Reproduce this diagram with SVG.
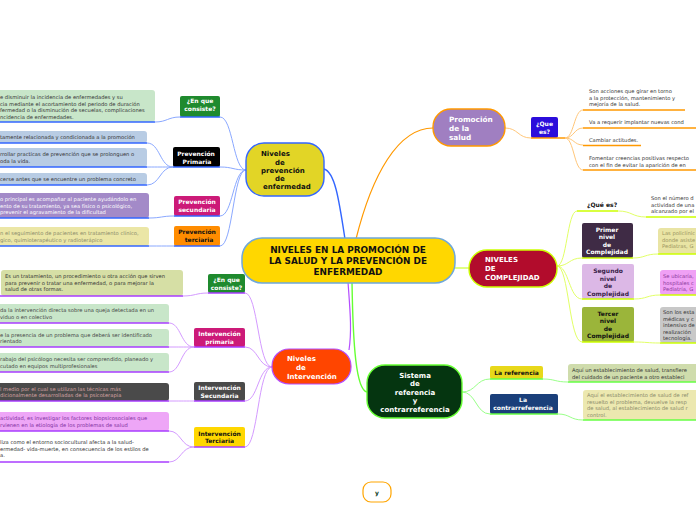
<svg xmlns="http://www.w3.org/2000/svg" width="696" height="520" viewBox="0 0 696 520">
<style>
text{font-family:"DejaVu Sans","Liberation Sans",sans-serif}
.t{font-size:5.2px;fill:#333}
.nb{font-size:6px;font-weight:bold;text-anchor:middle}
.mb{font-size:7px;font-weight:bold}
.c{fill:none;stroke-width:1}
.u{fill:none;stroke-width:1.6}
.bl{stroke:#8aa8ff}.blu{stroke:#3366ff}
.pu{stroke:#d49aff}.puu{stroke:#a83cff}
.or{stroke:#ffc77a}.oru{stroke:#ff9900}
.yg{stroke:#e2ff66}.ygu{stroke:#ccff00}
.gr{stroke:#99ff88}.gru{stroke:#66ff44}
</style>
<rect width="696" height="520" fill="#fff"/>

<g id="connectors">
<path d="M324,169 C335,172 339,200 345,239" fill="none" stroke="#3366ff" stroke-width="1.4"/>
<path d="M356,239 C372,175 398,128 433,128" fill="none" stroke="#ff9900" stroke-width="1.2"/>
<path d="M455,268 L469,268" fill="none" stroke="#ccff33" stroke-width="1.2"/>
<path d="M352,282 C353,345 356,390 367,392" fill="none" stroke="#66ff33" stroke-width="1.4"/>
<path d="M348,282 C350,310 352,330 349,350" fill="none" stroke="#b44dff" stroke-width="1.2"/>

<path class="c bl" d="M246,170 C233,170 233,117 220,117"/>
<path class="c bl" d="M246,170 C233,170 233,167 220,167"/>
<path class="c bl" d="M246,170 C233,170 233,216 220,216"/>
<path class="c bl" d="M246,170 C233,170 233,246 220,246"/>
<path class="c bl" d="M180,117 C168,117 167,122 155,122"/>
<path class="c bl" d="M173,167 C160,167 160,143 147,143"/>
<path class="c bl" d="M173,167 C160,167 160,167 147,167"/>
<path class="c bl" d="M173,167 C160,167 160,185 147,185"/>
<path class="c bl" d="M174,216 C162,216 161,218 149,218"/>
<path class="c bl" d="M174,246 C162,246 161,246 149,246"/>

<path class="c pu" d="M272,367 C258,367 258,293 245,293"/>
<path class="c pu" d="M272,367 C258,367 258,347 245,347"/>
<path class="c pu" d="M272,367 C258,367 258,401 245,401"/>
<path class="c pu" d="M272,367 C258,367 258,447 245,447"/>
<path class="c pu" d="M208,293 C196,293 195,296 183,296"/>
<path class="c pu" d="M194,347 C181,347 181,323 169,323"/>
<path class="c pu" d="M194,347 C181,347 181,347 169,347"/>
<path class="c pu" d="M194,347 C181,347 181,372 169,372"/>
<path class="c pu" d="M194,401 C181,401 181,401 169,401"/>
<path class="c pu" d="M194,447 C181,447 181,431 169,431"/>
<path class="c pu" d="M194,447 C181,447 181,462 169,462"/>

<path class="c or" d="M505,128 C518,128 518,138 531,138"/>
<path class="c or" d="M565,138 C574,138 574,110 583,110"/>
<path class="c or" d="M565,138 C574,138 574,128 583,128"/>
<path class="c or" d="M565,138 C574,138 574,145 583,145"/>
<path class="c or" d="M565,138 C574,138 574,170 583,170"/>

<path class="c yg" d="M557,266 C567,266 567,211 577,211"/>
<path class="c yg" d="M557,266 C569,266 569,258 582,258"/>
<path class="c yg" d="M557,266 C569,266 569,299 582,299"/>
<path class="c yg" d="M557,266 C569,266 569,342 582,342"/>
<path class="c yg" d="M618,211 C632,211 632,217 646,217"/>
<path class="c yg" d="M633,258 C645,258 645,254 658,254"/>
<path class="c yg" d="M634,299 C647,299 647,295 660,295"/>
<path class="c yg" d="M634,342 C647,342 647,343 660,343"/>

<path class="c gr" d="M462,392 C476,392 476,379 490,379"/>
<path class="c gr" d="M462,392 C476,392 476,414 490,414"/>
<path class="c gr" d="M543,379 C555,379 555,382 568,382"/>
<path class="c gr" d="M558,414 C570,414 570,420 583,420"/>
</g>

<g id="central">
<rect x="242" y="238" width="213" height="45" rx="20" fill="#ffd700" stroke="#6fa8dc" stroke-width="1.5"/>
<text x="348" y="253" font-size="8.9" font-weight="bold" text-anchor="middle" fill="#111">NIVELES EN LA PROMOCIÓN DE</text>
<text x="348" y="264" font-size="8.9" font-weight="bold" text-anchor="middle" fill="#111">LA SALUD Y LA PREVENCIÓN DE</text>
<text x="348" y="275" font-size="8.9" font-weight="bold" text-anchor="middle" fill="#111">ENFERMEDAD</text>
</g>

<g id="prevencion">
<rect x="246" y="143" width="78" height="53" rx="18" fill="#e2d526" stroke="#3366ff" stroke-width="1.4"/>
<text class="mb" x="261" y="156" fill="#111">Niveles</text>
<text class="mb" x="275" y="164.5" fill="#111">de</text>
<text class="mb" x="261" y="172.5" fill="#111">prevención</text>
<text class="mb" x="275" y="181" fill="#111">de</text>
<text class="mb" x="263" y="189" fill="#111">enfermedad</text>
</g>

<g id="prev-consiste">
<rect x="180" y="96" width="40" height="21" rx="2" fill="#1f8a2e"/>
<path class="u blu" d="M180,117 H220"/>
<text class="nb" x="200" y="103" fill="#fff">¿En que</text>
<text class="nb" x="200" y="111" fill="#fff">consiste?</text>
</g>
<g id="prev-consiste-txt">
<rect x="-5" y="90" width="160" height="32" rx="3" fill="#c8e6c9"/>
<path class="u blu" d="M0,122 H155"/>
<text class="t" x="0" y="99">e disminuir la incidencia de enfermedades y su</text>
<text class="t" x="0" y="105.5">cia mediante el acortamiento del periodo de duración</text>
<text class="t" x="0" y="112">fermedad o la disminución de secuelas, complicaciones</text>
<text class="t" x="0" y="118.5">ncidencia de enfermedades.</text>
</g>

<g id="prev-primaria">
<rect x="173" y="147" width="47" height="20" rx="2" fill="#000"/>
<path class="u blu" d="M173,167 H220"/>
<text class="nb" x="196" y="156" fill="#fff">Prevención</text>
<text class="nb" x="197" y="163.5" fill="#fff">Primaria</text>
</g>
<g id="pp1">
<rect x="-5" y="131" width="152" height="12" rx="3" fill="#b8cce4"/>
<path class="u blu" d="M0,143 H147"/>
<text class="t" x="0" y="138.5">tamente relacionada y condicionada a la promoción</text>
</g>
<g id="pp2">
<rect x="-5" y="148" width="152" height="19" rx="3" fill="#b8cce4"/>
<path class="u blu" d="M0,167 H147"/>
<text class="t" x="0" y="156">rrollar practicas de prevención que se prolonguen o</text>
<text class="t" x="0" y="163">oda la vida.</text>
</g>
<g id="pp3">
<rect x="-5" y="173" width="152" height="12" rx="3" fill="#b8cce4"/>
<path class="u blu" d="M0,185 H147"/>
<text class="t" x="0" y="181">cerse antes que se encuentre un problema concreto</text>
</g>

<g id="prev-secundaria">
<rect x="174" y="196" width="46" height="20" rx="2" fill="#cc1a78"/>
<path class="u blu" d="M174,216 H220"/>
<text class="nb" x="197" y="203.5" fill="#fff">Prevención</text>
<text class="nb" x="197" y="211.5" fill="#fff">secundaria</text>
</g>
<g id="ps1">
<rect x="-5" y="193" width="154" height="25" rx="3" fill="#a38ac8"/>
<path class="u blu" d="M0,218 H149"/>
<text class="t" x="0" y="201" style="fill:#fff">o principal es acompañar al paciente ayudándolo en</text>
<text class="t" x="0" y="207.5" style="fill:#fff">ento de su tratamiento, ya sea físico o psicológico,</text>
<text class="t" x="0" y="214" style="fill:#fff">prevenir el agravamiento de la dificultad</text>
</g>

<g id="prev-terciaria">
<rect x="174" y="226" width="46" height="20" rx="2" fill="#ff8c00"/>
<path class="u blu" d="M174,246 H220"/>
<text class="nb" x="197" y="233.5" fill="#111">Prevención</text>
<text class="nb" x="199" y="242" fill="#111">terciaria</text>
</g>
<g id="pt1">
<rect x="-5" y="227" width="154" height="19" rx="3" fill="#ebe6a6"/>
<path class="u blu" d="M0,246 H149"/>
<text class="t" x="0" y="235" style="fill:#8a8a6a">n el seguimiento de pacientes en tratamiento clínico,</text>
<text class="t" x="0" y="241.5" style="fill:#8a8a6a">gico, quimioterapéutico y radioterápico</text>
</g>

<g id="promocion">
<rect x="433" y="109" width="72" height="37" rx="18" fill="#a07fc1" stroke="#ff9900" stroke-width="1.4"/>
<text x="449" y="122" font-size="7.3" font-weight="bold" fill="#fff">Promoción</text>
<text x="449" y="131" font-size="7.3" font-weight="bold" fill="#fff">de la</text>
<text x="449" y="140" font-size="7.3" font-weight="bold" fill="#fff">salud</text>
</g>
<g id="que-es">
<rect x="531" y="117" width="27" height="21" rx="2" fill="#2b0ddb"/>
<path class="u oru" d="M531,138 H565"/>
<text class="nb" x="544.5" y="125.5" fill="#fff">¿Que</text>
<text class="nb" x="544.5" y="133.5" fill="#fff">es?</text>
</g>
<g id="pr1">
<path class="u oru" d="M583,110 H685"/>
<text class="t" x="589" y="93">Son acciones que girar en torno</text>
<text class="t" x="589" y="99.5">a la protección, mantenimiento y</text>
<text class="t" x="589" y="106">mejoría de la salud.</text>
</g>
<g id="pr2">
<path class="u oru" d="M583,128 H696"/>
<text class="t" x="589" y="124">Va a requerir implantar nuevas cond</text>
</g>
<g id="pr3">
<path class="u oru" d="M583,145.5 H641"/>
<text class="t" x="589" y="142">Cambiar actitudes.</text>
</g>
<g id="pr4">
<path class="u oru" d="M583,170 H696"/>
<text class="t" x="589" y="160">Fomentar creencias positivas respecto</text>
<text class="t" x="589" y="166.5">con el fin de evitar la aparición de en</text>
</g>

<g id="complejidad">
<rect x="469" y="250" width="88" height="37" rx="18" fill="#b20c2c" stroke="#ccff00" stroke-width="1.4"/>
<text class="mb" x="485" y="262" fill="#fff">NIVELES</text>
<text class="mb" x="485" y="271" fill="#fff">DE</text>
<text class="mb" x="485" y="280" fill="#fff">COMPLEJIDAD</text>
</g>
<g id="que-es-2">
<path class="u ygu" d="M577,211 H618"/>
<text x="587" y="206.5" font-size="6" font-weight="bold" fill="#111">¿Qué es?</text>
</g>
<g id="c1">
<path class="u ygu" d="M646,217 H696"/>
<text class="t" x="651" y="200">Son el número d</text>
<text class="t" x="651" y="206.5">actividad de una</text>
<text class="t" x="651" y="213">alcanzado por el</text>
</g>
<g id="primer">
<rect x="582" y="223" width="51" height="35" rx="2" fill="#3f2b45"/>
<path class="u ygu" d="M582,258 H633"/>
<text class="nb" x="607" y="231.5" fill="#fff">Primer</text>
<text class="nb" x="607" y="239" fill="#fff">nivel</text>
<text class="nb" x="607" y="246.5" fill="#fff">de</text>
<text class="nb" x="607" y="254" fill="#fff">Complejidad</text>
</g>
<g id="c2">
<rect x="658" y="228" width="45" height="26" rx="3" fill="#e9e4a4"/>
<path class="u ygu" d="M658,254 H696"/>
<text class="t" x="662" y="235" style="fill:#9a9460">Las policlínic</text>
<text class="t" x="662" y="241.5" style="fill:#9a9460">donde asiste</text>
<text class="t" x="662" y="248" style="fill:#9a9460">Pediatras, G</text>
</g>
<g id="segundo">
<rect x="582" y="264" width="52" height="35" rx="2" fill="#dcb8e6"/>
<path class="u ygu" d="M582,299 H634"/>
<text class="nb" x="608" y="273" fill="#3a1f4a">Segundo</text>
<text class="nb" x="608" y="280.5" fill="#3a1f4a">nivel</text>
<text class="nb" x="608" y="288" fill="#3a1f4a">de</text>
<text class="nb" x="608" y="295.5" fill="#3a1f4a">Complejidad</text>
</g>
<g id="c3">
<rect x="660" y="270" width="45" height="25" rx="3" fill="#f0a0f5"/>
<path class="u ygu" d="M660,295 H696"/>
<text class="t" x="663" y="278" style="fill:#8a3a9a">Se ubicaría,</text>
<text class="t" x="663" y="284.5" style="fill:#8a3a9a">hospitales c</text>
<text class="t" x="663" y="291" style="fill:#8a3a9a">Pediatría, G</text>
</g>
<g id="tercer">
<rect x="582" y="307" width="52" height="35" rx="2" fill="#9bb53a"/>
<path class="u ygu" d="M582,342 H634"/>
<text class="nb" x="608" y="315.5" fill="#111">Tercer</text>
<text class="nb" x="608" y="323" fill="#111">nivel</text>
<text class="nb" x="608" y="330.5" fill="#111">de</text>
<text class="nb" x="608" y="338" fill="#111">Complejidad</text>
</g>
<g id="c4">
<rect x="660" y="307" width="45" height="36" rx="3" fill="#c8c8c8"/>
<path class="u ygu" d="M660,343 H696"/>
<text class="t" x="663" y="314">Son los esta</text>
<text class="t" x="663" y="320.5">médicas y c</text>
<text class="t" x="663" y="327">intensivo de</text>
<text class="t" x="663" y="333.5">realización</text>
<text class="t" x="663" y="340">tecnología.</text>
</g>

<g id="sistema">
<rect x="367" y="365" width="95" height="53" rx="18" fill="#053510" stroke="#66ff33" stroke-width="1.4"/>
<text class="mb" x="415" y="378" text-anchor="middle" fill="#fff">Sistema</text>
<text class="mb" x="415" y="386" text-anchor="middle" fill="#fff">de</text>
<text class="mb" x="415" y="395" text-anchor="middle" fill="#fff">referencia</text>
<text class="mb" x="415" y="403" text-anchor="middle" fill="#fff">y</text>
<text class="mb" x="415" y="411.5" text-anchor="middle" fill="#fff">contrarreferencia</text>
</g>
<g id="referencia">
<rect x="490" y="366" width="53" height="13" rx="2" fill="#e8d81a"/>
<path class="u gru" d="M490,379 H543"/>
<text class="nb" x="516.5" y="374.5" fill="#111">La referencia</text>
</g>
<g id="ref-txt">
<rect x="568" y="364" width="135" height="18" rx="3" fill="#cfdcac"/>
<path class="u gru" d="M568,382 H696"/>
<text class="t" x="572" y="372">Aquí un establecimiento de salud, transfiere</text>
<text class="t" x="572" y="378.5">del cuidado de un paciente a otro estableci</text>
</g>
<g id="contrarreferencia">
<rect x="490" y="394" width="68" height="20" rx="2" fill="#1a3f7a"/>
<path class="u gru" d="M490,414 H558"/>
<text class="nb" x="523" y="401.5" fill="#fff">La</text>
<text class="nb" x="523" y="410" fill="#fff">contrarreferencia</text>
</g>
<g id="contra-txt">
<rect x="583" y="390" width="120" height="30" rx="3" fill="#ece8b0"/>
<path class="u gru" d="M583,420 H696"/>
<text class="t" x="587" y="397" style="fill:#8a8a6a">Aquí el establecimiento de salud de ref</text>
<text class="t" x="587" y="403.5" style="fill:#8a8a6a">resuelto el problema, devuelve la resp</text>
<text class="t" x="587" y="410" style="fill:#8a8a6a">de salud, al establecimiento de salud r</text>
<text class="t" x="587" y="416.5" style="fill:#8a8a6a">control.</text>
</g>

<g id="intervencion">
<rect x="272" y="349" width="79" height="35" rx="17" fill="#ff4500" stroke="#b44dff" stroke-width="1.2"/>
<text class="mb" x="287" y="361" fill="#fff">Niveles</text>
<text class="mb" x="296" y="369.5" fill="#fff">de</text>
<text class="mb" x="287" y="378.5" fill="#fff">Intervención</text>
</g>
<g id="int-consiste">
<rect x="208" y="274" width="37" height="19" rx="2" fill="#1f8a2e"/>
<path class="u puu" d="M208,293 H245"/>
<text class="nb" x="226.5" y="282" fill="#fff">¿En que</text>
<text class="nb" x="226.5" y="289.5" fill="#fff">consiste?</text>
</g>
<g id="ic1">
<rect x="1" y="270" width="182" height="26" rx="3" fill="#d6dfa5"/>
<path class="u puu" d="M0,296 H183"/>
<text class="t" x="5" y="278">Es un tratamiento, un procedimiento u otra acción que sirven</text>
<text class="t" x="5" y="284.5">para prevenir o tratar una enfermedad, o para mejorar la</text>
<text class="t" x="5" y="291">salud de otras formas.</text>
</g>
<g id="int-primaria">
<rect x="194" y="328" width="51" height="19" rx="2" fill="#cc1a78"/>
<path class="u puu" d="M194,347 H245"/>
<text class="nb" x="219.5" y="336" fill="#fff">Intervención</text>
<text class="nb" x="219.5" y="343.5" fill="#fff">primaria</text>
</g>
<g id="ip1">
<rect x="-5" y="304" width="174" height="19" rx="3" fill="#c8e6c9"/>
<path class="u puu" d="M0,323 H169"/>
<text class="t" x="0" y="312" style="fill:#444">da la intervención directa sobre una queja detectada en un</text>
<text class="t" x="0" y="318.5" style="fill:#444">viduo o en colectivo</text>
</g>
<g id="ip2">
<rect x="-5" y="329" width="174" height="18" rx="3" fill="#c8e6c9"/>
<path class="u puu" d="M0,347 H169"/>
<text class="t" x="0" y="336.5" style="fill:#444">e la presencia de un problema que deberá ser identificado</text>
<text class="t" x="0" y="343" style="fill:#444">rientado</text>
</g>
<g id="ip3">
<rect x="-5" y="353" width="174" height="19" rx="3" fill="#c8e6c9"/>
<path class="u puu" d="M0,372 H169"/>
<text class="t" x="0" y="361" style="fill:#444">rabajo del psicólogo necesita ser comprendido, planeado y</text>
<text class="t" x="0" y="367.5" style="fill:#444">cutado en equipos multiprofesionales</text>
</g>
<g id="int-secundaria">
<rect x="194" y="382" width="51" height="19" rx="2" fill="#4a4a4a"/>
<path class="u puu" d="M194,401 H245"/>
<text class="nb" x="219.5" y="390" fill="#fff">Intervención</text>
<text class="nb" x="219.5" y="397.5" fill="#fff">Secundaria</text>
</g>
<g id="is1">
<rect x="-5" y="383" width="174" height="18" rx="3" fill="#4a4a4a"/>
<path class="u puu" d="M0,401 H169"/>
<text class="t" x="0" y="390.5" style="fill:#d8a4a4">l medio por el cual se utilizan las técnicas más</text>
<text class="t" x="0" y="397" style="fill:#d8a4a4">dicionalmente desarrolladas de la psicoterapia</text>
</g>
<g id="it1">
<rect x="-5" y="412" width="174" height="19" rx="3" fill="#eea6f7"/>
<path class="u puu" d="M0,431 H169"/>
<text class="t" x="0" y="420" style="fill:#8030a0">actividad, es investigar los factores biopsicosociales que</text>
<text class="t" x="0" y="426.5" style="fill:#8030a0">rvienen en la etiología de los problemas de salud</text>
</g>
<g id="int-terciaria">
<rect x="194" y="427" width="51" height="20" rx="2" fill="#ffd700"/>
<path class="u puu" d="M194,447 H245"/>
<text class="nb" x="219.5" y="435.5" fill="#111">Intervención</text>
<text class="nb" x="219.5" y="443" fill="#111">Terciaria</text>
</g>
<g id="it2">
<path class="u puu" d="M0,462 H169"/>
<text class="t" x="0" y="444">liza como el entorno sociocultural afecta a la salud-</text>
<text class="t" x="0" y="450.5">ermedad- vida-muerte, en consecuencia de los estilos de</text>
<text class="t" x="0" y="457">a.</text>
</g>

<g id="y-node">
<rect x="363" y="482" width="28" height="20" rx="8" fill="#fff" stroke="#ffa500" stroke-width="1.2"/>
<text x="377" y="494.5" font-size="6" font-weight="bold" text-anchor="middle" fill="#0a3a1a">y</text>
</g>
</svg>
